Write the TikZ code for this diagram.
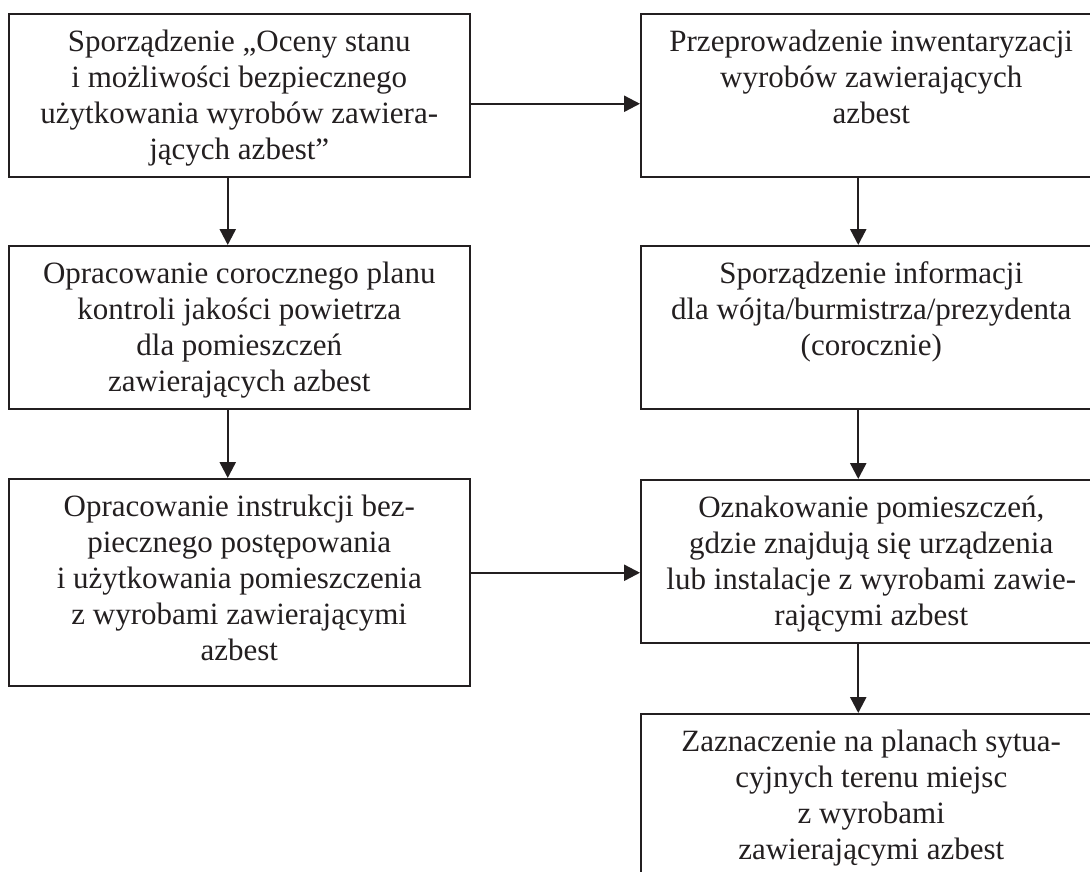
\documentclass[tikz,border=0pt]{standalone}
\usepackage{fontspec}
\setmainfont{Liberation Serif}
\usepackage{xcolor}
\usetikzlibrary{arrows.meta, positioning}
\definecolor{ink}{RGB}{35,31,32}
% text of a box, set from its top edge
\newcommand{\boxtext}[2]{\parbox[c][#1][t]{450pt}{\centering\rule{0pt}{38pt}#2}}

\begin{document}
\begin{tikzpicture}[x=1pt, y=-1pt,
    every node/.style={font=\fontsize{31}{36}\selectfont, text=ink},
    box/.style={draw=ink, line width=1.5pt, anchor=north west, minimum width=461pt, inner sep=0pt},
    arrow/.style={-{Triangle[length=16pt,width=16pt]}, line width=2.4pt, draw=ink}
]
\useasboundingbox (0,0) rectangle (1090,871);
\clip (0,0) rectangle (1090,871);

% --- left column ---
\node[box] (ocena) at (8,13) {\boxtext{163pt}{Sporządzenie „Oceny stanu\\ i możliwości bezpiecznego\\ użytkowania wyrobów zawiera-\\ jących azbest”}};
\node[box] (plan) at (8,245) {\boxtext{163pt}{Opracowanie corocznego planu\\ kontroli jakości powietrza\\ dla pomieszczeń\\ zawierających azbest}};
\node[box] (instr) at (8,478) {\boxtext{207pt}{Opracowanie instrukcji bez-\\ piecznego postępowania\\ i użytkowania pomieszczenia\\ z wyrobami zawierającymi\\ azbest}};

% --- right column ---
\node[box] (inwent) at (640,13) {\boxtext{163pt}{Przeprowadzenie inwentaryzacji\\ wyrobów zawierających\\ azbest}};
\node[box] (info) at (640,245) {\boxtext{163pt}{Sporządzenie informacji\\ dla wójta/burmistrza/prezydenta\\ (corocznie)}};
\node[box] (oznak) at (640,479) {\boxtext{163pt}{Oznakowanie pomieszczeń,\\ gdzie znajdują się urządzenia\\ lub instalacje z wyrobami zawie-\\ rającymi azbest}};
\node[box] (zazn) at (640,713) {\boxtext{180pt}{Zaznaczenie na planach sytua-\\ cyjnych terenu miejsc\\ z wyrobami\\ zawierającymi azbest}};

% --- arrows ---
\draw[arrow] ([xshift=-11.5pt]ocena.south) -- ([xshift=-11.5pt]plan.north);
\draw[arrow] ([xshift=-11.5pt]plan.south) -- ([xshift=-11.5pt]instr.north);
\draw[arrow] ([xshift=-13pt]inwent.south) -- ([xshift=-13pt]info.north);
\draw[arrow] ([xshift=-13pt]info.south) -- ([xshift=-13pt]oznak.north);
\draw[arrow] ([xshift=-13pt]oznak.south) -- ([xshift=-13pt]zazn.north);
\draw[arrow] ([yshift=-8.5pt]ocena.east) -- ([yshift=-8.5pt]inwent.west);
\draw[arrow] ([yshift=9.5pt]instr.east) -- ([yshift=-11.5pt]oznak.west);

\end{tikzpicture}
\end{document}
